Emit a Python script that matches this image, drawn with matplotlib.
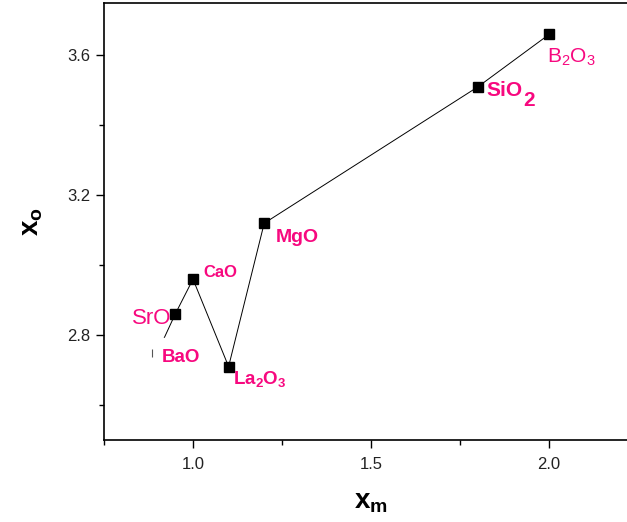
import matplotlib
matplotlib.use('Agg')
import matplotlib.pyplot as plt
from matplotlib.path import Path
from matplotlib.ticker import MultipleLocator

plt.rcParams['font.family'] = ['Liberation Sans', 'DejaVu Sans']
plt.rcParams['mathtext.fontset'] = 'custom'
plt.rcParams['mathtext.rm'] = 'Liberation Sans'
plt.rcParams['mathtext.it'] = 'Liberation Sans'
plt.rcParams['mathtext.bf'] = 'Liberation Sans:bold'

# optical basicity data per oxide, plotted in this order
oxides = ['BaO', 'SrO', 'CaO', 'La2O3', 'MgO', 'SiO2', 'B2O3']
xm = [0.90, 0.95, 1.00, 1.10, 1.20, 1.80, 2.00]
xo = [2.75, 2.86, 2.96, 2.71, 3.12, 3.51, 3.66]

PINK = '#f7087f'

fig = plt.figure(figsize=(6.27, 5.22), dpi=100)
W, H = 627, 522
ax = fig.add_axes([104 / W, (H - 440) / H, (638 - 104) / W, (440 - 3) / H])

ax.plot(xm, xo, color='black', lw=0.7, zorder=2)
ax.plot(xm[1:], xo[1:], ls='none', marker='s', ms=6.8, color='black', zorder=3)

# BaO end: blank square with only its left edge left showing
ax.plot(xm[0], xo[0], ls='none', marker='s', ms=21, mfc='white', mec='white', zorder=2.5)
edge = Path([(-1, -0.82), (-1, 0.82)])
ax.plot(xm[0], xo[0], ls='none', marker=edge, ms=7.9, mec='#555555', mew=0.8, zorder=3)

def label(i, text, dx, dy, size, weight='bold', ha='left'):
    ax.annotate(text, (xm[i], xo[i]), xytext=(dx, dy), textcoords='offset points',
                ha=ha, va='baseline', fontsize=size, fontweight=weight, color=PINK,
                zorder=4)

label(0, 'BaO', 3.0, -6.8, 13.5)
label(1, 'SrO', -2.6, -6.8, 16, weight='normal', ha='right')
label(2, 'CaO', 7.6, 1.4, 12)
label(3, r'$\mathbf{La_2O_3}$', 3.3, -12.5, 13.5)
label(4, 'MgO', 8.4, -13.8, 14)
label(5, 'SiO', 6.0, -6.9, 15)
label(5, '2', 32.8, -13.5, 15)
label(6, r'$\mathrm{B_2O_3}$', -1.4, -20.4, 15, weight='normal')

ax.set_xlim(0.75, 2.25)
ax.set_ylim(2.5, 3.75)
ax.xaxis.set_major_locator(MultipleLocator(0.5))
ax.xaxis.set_minor_locator(MultipleLocator(0.25))
ax.yaxis.set_major_locator(MultipleLocator(0.4))
ax.yaxis.set_minor_locator(MultipleLocator(0.2))
ax.tick_params(which='both', direction='out', width=1.0, labelsize=12, labelcolor='#222222')
ax.tick_params(which='major', length=6, pad=4)
ax.tick_params(which='minor', length=3.5)
ax.tick_params(axis='x', which='major', length=5.5, pad=7)

for s in ax.spines.values():
    s.set_linewidth(1.2)

ax.set_xlabel(r'$\mathbf{x_m}$', fontsize=20, labelpad=12)
ax.set_ylabel(r'$\mathbf{x_o}$', fontsize=20, labelpad=16)

fig.savefig('out.png', dpi=100)
